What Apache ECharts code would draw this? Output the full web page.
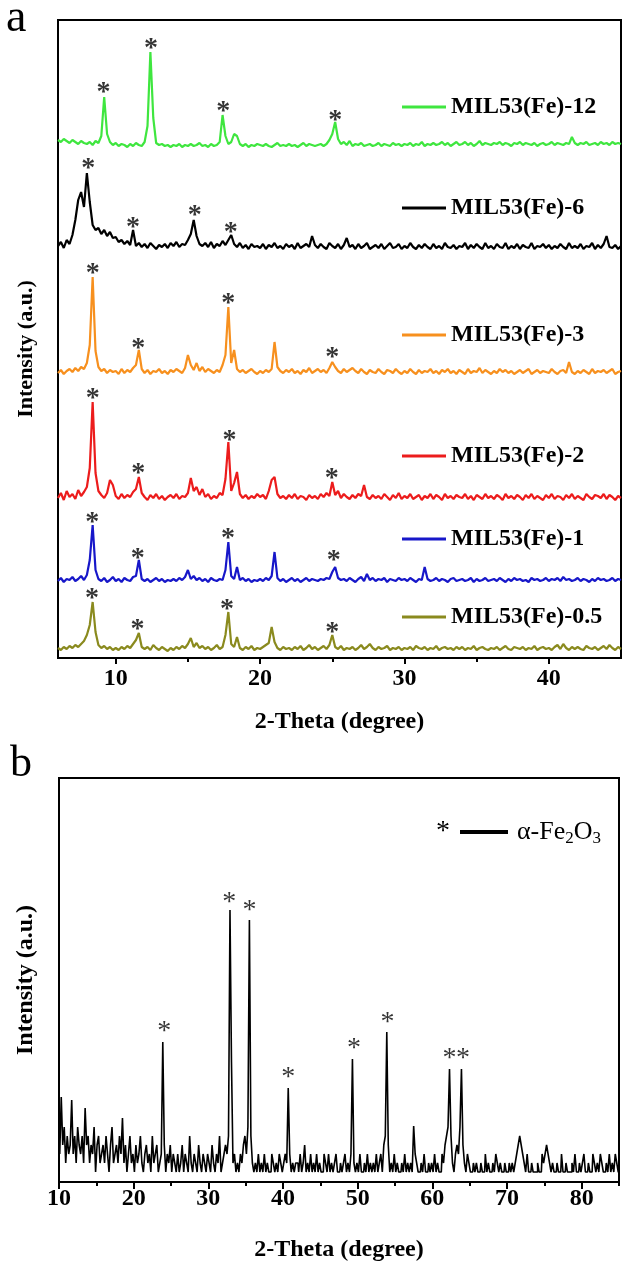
<!DOCTYPE html>
<html><head><meta charset="utf-8">
<script src="https://cdn.jsdelivr.net/npm/echarts@6/dist/echarts.min.js"></script>
<style>html,body{margin:0;padding:0;background:#fff}#c{width:622px;height:1264px}</style>
</head><body><div id="c"></div>
<script>
// ---- 2-theta grid (degrees), shared by both panels ----
const twoTheta = [
6,6.2,6.4,6.6,6.8,7,7.2,7.4,7.6,7.8,
8,8.2,8.4,8.6,8.8,9,9.2,9.4,9.6,9.8,
10,10.2,10.4,10.6,10.8,11,11.2,11.4,11.6,11.8,
12,12.2,12.4,12.6,12.8,13,13.2,13.4,13.6,13.8,
14,14.2,14.4,14.6,14.8,15,15.2,15.4,15.6,15.8,
16,16.2,16.4,16.6,16.8,17,17.2,17.4,17.6,17.8,
18,18.2,18.4,18.6,18.8,19,19.2,19.4,19.6,19.8,
20,20.2,20.4,20.6,20.8,21,21.2,21.4,21.6,21.8,
22,22.2,22.4,22.6,22.8,23,23.2,23.4,23.6,23.8,
24,24.2,24.4,24.6,24.8,25,25.2,25.4,25.6,25.8,
26,26.2,26.4,26.6,26.8,27,27.2,27.4,27.6,27.8,
28,28.2,28.4,28.6,28.8,29,29.2,29.4,29.6,29.8,
30,30.2,30.4,30.6,30.8,31,31.2,31.4,31.6,31.8,
32,32.2,32.4,32.6,32.8,33,33.2,33.4,33.6,33.8,
34,34.2,34.4,34.6,34.8,35,35.2,35.4,35.6,35.8,
36,36.2,36.4,36.6,36.8,37,37.2,37.4,37.6,37.8,
38,38.2,38.4,38.6,38.8,39,39.2,39.4,39.6,39.8,
40,40.2,40.4,40.6,40.8,41,41.2,41.4,41.6,41.8,
42,42.2,42.4,42.6,42.8,43,43.2,43.4,43.6,43.8,
44,44.2,44.4,44.6,44.8,45,45.2,45.4,45.6,45.8,
46,46.2,46.4,46.6,46.8,47,47.2,47.4,47.6,47.8,
48,48.2,48.4,48.6,48.8,49,49.2,49.4,49.6,49.8,
50,50.2,50.4,50.6,50.8,51,51.2,51.4,51.6,51.8,
52,52.2,52.4,52.6,52.8,53,53.2,53.4,53.6,53.8,
54,54.2,54.4,54.6,54.8,55,55.2,55.4,55.6,55.8,
56,56.2,56.4,56.6,56.8,57,57.2,57.4,57.6,57.8,
58,58.2,58.4,58.6,58.8,59,59.2,59.4,59.6,59.8,
60,60.2,60.4,60.6,60.8,61,61.2,61.4,61.6,61.8,
62,62.2,62.4,62.6,62.8,63,63.2,63.4,63.6,63.8,
64,64.2,64.4,64.6,64.8,65,65.2,65.4,65.6,65.8,
66,66.2,66.4,66.6,66.8,67,67.2,67.4,67.6,67.8,
68,68.2,68.4,68.6,68.8,69,69.2,69.4,69.6,69.8,
70,70.2,70.4,70.6,70.8,71,71.2,71.4,71.6,71.8,
72,72.2,72.4,72.6,72.8,73,73.2,73.4,73.6,73.8,
74,74.2,74.4,74.6,74.8,75,75.2,75.4,75.6,75.8,
76,76.2,76.4,76.6,76.8,77,77.2,77.4,77.6,77.8,
78,78.2,78.4,78.6,78.8,79,79.2,79.4,79.6,79.8,
80,80.2,80.4,80.6,80.8,81,81.2,81.4,81.6,81.8,
82,82.2,82.4,82.6,82.8,83,83.2,83.4,83.6,83.8,
84,84.2,84.4,84.6,84.8,85];

// ---- Panel a: MIL53(Fe) samples (intensity above each trace's baseline, a.u.) ----
const seriesNamesA = ['MIL53(Fe)-12','MIL53(Fe)-6','MIL53(Fe)-3','MIL53(Fe)-2','MIL53(Fe)-1','MIL53(Fe)-0.5'];
const stackOffsetsA = [510, 406, 281, 155, 74, 5];

const mil12 = [
8,6,9,7,5,8,6,4,7,5, 4,6,3,7,5,12,51,14,6,3, 5,2,4,3,1,4,2,5,3,2, 6,22,96,30,5,3,4,2,3,1,
3,2,4,1,3,2,4,2,3,5, 2,3,1,4,2,3,6,33,12,4, 6,14,12,4,2,4,1,3,2,4, 3,2,4,2,1,3,5,2,3,2,
4,2,3,1,3,5,2,4,3,2, 3,4,2,4,8,14,26,9,4,6, 3,7,2,4,3,5,2,3,4,2, 3,5,2,4,3,2,5,3,4,2,
4,3,5,2,4,3,6,2,4,3, 5,3,4,6,3,5,2,4,6,3, 4,6,3,5,2,4,7,3,5,4, 3,5,4,6,3,5,4,2,5,4,
6,3,5,4,3,5,2,4,5,3, 4,6,3,5,4,3,5,4,11,5, 3,5,4,6,3,4,5,3,6,4, 5,3,6,4,5,4];

const mil6 = [
6,10,4,12,8,17,32,52,60,45, 79,50,27,22,24,18,22,16,20,14, 15,10,12,8,11,7,22,6,9,5, 8,4,9,6,3,7,5,8,4,9,
6,10,5,8,7,12,18,32,16,8, 6,9,5,10,4,8,6,11,7,12, 17,8,5,9,4,7,3,8,5,6, 4,8,3,7,5,9,4,6,3,8,
5,7,3,9,4,6,8,5,16,7, 4,8,5,3,9,6,4,8,3,7, 14,5,7,3,8,4,6,9,3,5, 7,4,8,3,6,9,4,5,8,3,
6,4,9,5,3,7,4,8,5,3, 8,4,6,3,9,5,4,7,3,6, 5,9,3,7,4,8,5,3,9,4, 6,3,8,5,4,9,3,6,4,8,
3,7,5,4,9,3,6,5,8,4, 7,3,6,4,8,5,3,9,4,6, 4,8,3,6,5,9,3,7,4,8, 16,5,4,7,3,6];

const mil3 = [
4,7,3,6,8,5,9,6,10,8, 14,32,100,26,10,6,8,4,7,5, 6,3,8,4,7,5,9,12,27,8, 4,7,3,6,5,8,4,6,3,7,
5,8,6,4,9,22,12,7,14,6, 10,5,8,6,4,7,5,12,22,70, 14,27,8,5,7,4,6,8,5,3, 6,4,7,5,8,35,10,6,4,7,
5,8,4,6,3,7,5,9,4,6, 8,5,7,4,9,15,10,6,4,8, 5,7,9,6,4,8,5,3,7,5, 4,8,5,3,7,6,4,8,5,3,
6,4,8,5,3,7,4,6,5,8, 4,6,3,7,5,8,4,6,3,7, 5,3,8,4,6,5,9,4,7,5, 3,6,4,8,5,7,4,6,3,5,
7,4,6,8,3,5,7,4,6,5, 4,8,5,3,6,7,4,15,5,3, 6,4,7,5,3,8,4,6,5,7, 4,6,8,3,5,6];

const mil2 = [
5,10,3,12,6,9,4,13,7,11, 16,35,101,30,12,8,5,10,23,18, 7,4,9,5,8,6,11,14,26,10, 6,3,8,5,9,4,7,3,6,8,
5,9,4,7,6,10,25,12,16,8, 14,6,9,4,7,5,10,8,24,61, 12,20,31,9,5,8,4,7,5,9, 6,8,4,12,23,26,9,5,7,4,
8,5,9,4,7,6,3,8,5,7, 4,9,6,10,7,21,8,12,5,9, 6,4,8,5,9,7,18,6,4,8, 5,7,4,9,6,3,8,5,10,4,
7,5,9,4,6,8,3,7,5,9, 4,8,6,3,9,5,7,4,8,6, 5,9,4,7,3,8,6,4,9,5, 7,4,8,6,3,9,5,7,4,8,
6,3,8,5,9,4,7,5,3,8, 5,9,4,7,6,3,8,5,9,4, 7,5,3,9,6,4,8,7,5,9, 4,8,6,3,7,5];

const mil1 = [
3,6,2,5,4,7,3,5,8,4, 9,24,59,14,5,3,6,2,4,7, 3,5,2,6,4,3,7,8,24,5, 3,5,2,4,6,3,5,2,4,3,
5,3,6,4,7,14,5,8,4,6, 3,5,2,6,4,3,5,4,14,42, 8,5,17,4,6,3,5,2,4,3, 5,3,6,4,8,32,6,3,5,2,
4,6,3,5,2,4,6,3,5,4, 3,5,4,6,5,12,17,6,4,5, 3,6,4,2,5,7,3,10,4,6, 3,5,4,6,2,5,4,3,6,4,
5,3,6,4,2,5,4,17,5,3, 4,6,3,5,4,2,5,6,3,4, 5,3,4,6,2,5,3,4,6,3, 4,5,3,6,4,2,5,3,6,4,
5,3,4,2,6,4,5,3,4,6, 3,5,4,6,3,7,4,5,3,4, 6,3,5,4,2,5,3,6,4,5, 3,4,6,3,5,4];

const mil05 = [
5,3,6,4,7,5,8,6,9,12, 18,28,51,21,8,5,7,4,6,3, 5,3,6,4,7,5,9,13,20,6, 4,6,3,8,5,3,6,4,2,5,
3,6,4,7,5,9,15,6,10,5, 7,4,6,3,5,8,4,6,18,41, 9,6,16,5,3,6,4,7,3,5, 4,6,8,10,26,11,5,3,6,4,
5,3,6,4,7,3,5,8,4,6, 3,5,7,4,8,18,6,4,7,3, 5,4,6,3,5,8,4,6,9,5, 3,6,4,5,7,3,5,4,6,3,
5,4,6,3,7,5,4,6,3,5, 4,7,3,5,6,4,5,3,6,4, 6,3,5,4,7,3,5,6,4,3, 5,4,6,3,5,7,4,3,6,5,
4,6,3,5,4,7,3,5,6,4, 5,3,6,8,4,9,5,3,6,4, 6,4,3,7,5,4,6,3,5,7, 4,8,5,3,6,4];

// asterisk markers, panel a: [2theta, stacked intensity]
const asteriskA = [
[9.15,571],[12.45,615],[17.45,552],[25.2,543],
[8.1,495],[11.2,436],[15.48,448],[17.97,431],
[8.4,390],[11.56,315],[17.8,360],[25.0,306],
[8.4,265],[11.56,190],[17.88,223],[24.96,185],
[8.37,141],[11.53,105],[17.78,125],[25.1,103],
[8.35,65],[11.5,34],[17.7,54],[25.0,31]];

// ---- Panel b: alpha-Fe2O3 (10 - 85 deg) ----
const fe2o3 = [
46,28,85,37,55,19,46,28,37,82, 28,46,19,55,37,28,46,19,74,37, 46,19,37,28,55,10,37,46,19,28,
37,19,46,28,10,37,55,19,28,37, 19,46,28,64,19,37,10,28,46,19, 28,10,37,19,28,46,19,10,28,37,
19,28,10,46,19,28,37,10,19,28, 140,37,10,28,19,37,10,28,19,10, 28,10,19,37,10,28,19,10,46,19,
10,28,19,10,37,19,10,28,19,10, 28,19,10,37,19,10,28,19,46,10, 19,28,37,28,46,272,120,19,28,10,
19,10,28,19,37,46,28,55,262,46, 19,10,19,10,28,10,19,10,28,10, 19,10,10,28,19,10,19,10,28,19,
10,19,28,19,94,28,10,19,10,19, 19,10,28,10,19,37,10,19,10,28, 10,19,10,28,10,19,10,10,28,19,
10,28,10,19,10,19,28,10,10,19, 10,19,28,10,19,10,28,123,19,10, 19,10,28,10,10,19,10,28,10,19,
10,19,10,28,10,19,28,10,37,46, 150,37,10,19,10,28,10,19,10,10, 19,10,28,10,19,10,19,10,56,28,
19,10,10,19,10,28,10,10,19,10, 19,10,28,10,19,10,10,28,19,37, 46,55,113,46,19,10,28,37,28,55,
113,37,19,10,28,19,10,10,19,10, 19,10,10,19,10,10,28,10,19,10, 10,19,10,28,19,10,19,10,10,19,
10,10,19,10,19,10,19,28,37,46, 37,28,19,10,28,10,10,19,10,10, 10,19,10,10,28,19,28,37,28,19,
10,19,10,10,19,10,10,28,10,10, 19,10,10,10,19,10,28,10,10,19, 10,19,28,10,10,19,10,10,28,19,
10,19,10,28,19,10,10,19,10,28, 10,19,10,28,19,10];
const seriesNameB = 'α-Fe2O3';
const asteriskB = [[24.1,156],[32.8,285],[35.5,277],[40.7,110],[49.5,139],[54.0,165],[62.3,129],[64.1,129]];

// ---- tick labels ----
const ticksA = [10,20,30,40];
const minorTicksA = [15,25,35];
const ticksB = [10,20,30,40,50,60,70,80];
const minorTicksB = [15,25,35,45,55,65,75,85];

// ---- build ----
const SERIF = "'Liberation Serif','Times New Roman',serif";
const colorsA = ['#3fe63f','#000000','#f7901e','#ec1c1c','#1717c9','#8a8a1e'];
const valuesA = [mil12, mil6, mil3, mil2, mil1, mil05];
const thetaA = twoTheta.slice(0, mil12.length);
const thetaB = twoTheta.slice(20, 20 + fe2o3.length);
const legendCentersA = [107, 208, 335, 456, 539, 617];

const series = [];
valuesA.forEach((vals, k) => {
  series.push({
    type: 'line', name: seriesNamesA[k], xAxisIndex: 0, yAxisIndex: 0,
    data: thetaA.map((t, i) => [t, stackOffsetsA[k] + vals[i]]),
    showSymbol: false, symbol: 'none',
    lineStyle: { color: colorsA[k], width: 2.2 }, itemStyle: { color: colorsA[k] },
    z: 3
  });
});
series.push({
  type: 'scatter', xAxisIndex: 0, yAxisIndex: 0, data: asteriskA, symbolSize: 1,
  itemStyle: { color: 'rgba(0,0,0,0)' }, silent: true, z: 6,
  label: { show: true, position: 'inside', formatter: '*', fontFamily: SERIF, fontWeight: 'bold', fontSize: 28, color: '#000', offset: [0, 6] }
});
series.push({
  type: 'line', name: seriesNameB, xAxisIndex: 2, yAxisIndex: 1,
  data: thetaB.map((t, i) => [t, fe2o3[i]]),
  showSymbol: false, symbol: 'none', step: 'middle',
  lineStyle: { color: '#000', width: 1.6 }, itemStyle: { color: '#000' }, z: 3
});
series.push({
  type: 'scatter', xAxisIndex: 2, yAxisIndex: 1, data: asteriskB, symbolSize: 1,
  itemStyle: { color: 'rgba(0,0,0,0)' }, silent: true, z: 6,
  label: { show: true, position: 'inside', formatter: '*', fontFamily: SERIF, fontWeight: 'normal', fontSize: 28, color: '#000', offset: [0, 6] }
});

const axisFont = { fontFamily: SERIF, fontWeight: 'bold', fontSize: 24, color: '#000' };
function majorX(grid, min, max, ticks, margin, name, nameGap, tickLen) {
  return {
    type: 'value', gridIndex: grid, position: 'bottom', min: min, max: max,
    axisLine: { show: false }, splitLine: { show: false },
    axisTick: { show: true, customValues: ticks, length: tickLen, inside: false, lineStyle: { color: '#000', width: 2 } },
    axisLabel: Object.assign({ show: true, customValues: ticks, margin: margin }, axisFont),
    name: name, nameLocation: 'middle', nameGap: nameGap,
    nameTextStyle: { fontFamily: SERIF, fontWeight: 'bold', fontSize: 24, color: '#000' }
  };
}
function minorX(grid, min, max, ticks, tickLen) {
  return {
    type: 'value', gridIndex: grid, position: 'bottom', min: min, max: max,
    axisLine: { show: false }, splitLine: { show: false }, axisLabel: { show: false },
    axisTick: { show: true, customValues: ticks, length: tickLen, inside: false, lineStyle: { color: '#000', width: 2 } }
  };
}
function yAx(grid, max, fontSize, pad) {
  return {
    type: 'value', gridIndex: grid, min: 0, max: max,
    axisLine: { show: false }, axisTick: { show: false }, axisLabel: { show: false }, splitLine: { show: false },
    name: 'Intensity (a.u.)', nameLocation: 'middle', nameRotate: 90, nameGap: 21,
    nameTextStyle: { fontFamily: SERIF, fontWeight: 'bold', fontSize: fontSize, color: '#000', padding: pad }
  };
}

const legends = seriesNamesA.map((n, k) => ({
  data: [n], left: 402, top: legendCentersA[k] - 12, padding: 0, selectedMode: false,
  itemWidth: 44, itemHeight: 3, icon: 'rect',
  textStyle: { fontFamily: SERIF, fontWeight: 'bold', fontSize: 24, color: '#000' }
}));
legends.push({
  data: [seriesNameB], left: 460, top: 819, padding: 0, selectedMode: false,
  itemWidth: 48, itemHeight: 4, icon: 'rect',
  formatter: () => '{n|α-Fe}{s|2}{n|O}{s|3}',
  textStyle: { color: '#000', padding: [0, 0, 0, 4], rich: {
    n: { fontFamily: SERIF, fontSize: 26, color: '#000' },
    s: { fontFamily: SERIF, fontSize: 17, color: '#000', padding: [14, 0, 0, 0] } } }
});

const option = {
  animation: false,
  backgroundColor: '#fff',
  grid: [
    { left: 58, top: 20, width: 563, height: 638, show: true, borderColor: '#000', borderWidth: 2, backgroundColor: 'transparent', containLabel: false, outerBoundsMode: 'none' },
    { left: 59, top: 778, width: 560, height: 404, show: true, borderColor: '#000', borderWidth: 2, backgroundColor: 'transparent', containLabel: false, outerBoundsMode: 'none' }
  ],
  xAxis: [
    majorX(0, 6, 45, ticksA, 9, '2-Theta (degree)', 52, 6),
    minorX(0, 6, 45, minorTicksA, 4),
    majorX(1, 10, 85, ticksB, 5, '2-Theta (degree)', 56, 7),
    minorX(1, 10, 85, minorTicksB, 4)
  ],
  yAxis: [ yAx(0, 638, 22, [0, 20, 0, 0]), yAx(1, 404, 24, [0, 0, 0, 0]) ],
  legend: legends,
  graphic: [
    { type: 'text', left: 6, top: -4, style: { text: 'a', font: '46px ' + SERIF, fill: '#000' } },
    { type: 'text', left: 10, top: 742, style: { text: 'b', font: '44px ' + SERIF, fill: '#000' } },
    { type: 'text', left: 436, top: 818, style: { text: '*', font: '28px ' + SERIF, fill: '#000' } }
  ],
  series: series
};
const chart = echarts.init(document.getElementById('c'), null, { renderer: 'canvas' });
chart.setOption(option);
</script></body></html>
